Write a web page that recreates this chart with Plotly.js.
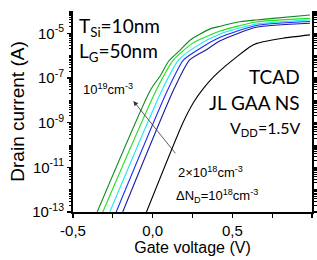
<!DOCTYPE html>
<html>
<head>
<meta charset="utf-8">
<script src="https://cdn.plot.ly/plotly-3.0.1.min.js"></script>
<style>html,body{margin:0;padding:0;background:#fff;}#chart{width:317px;height:260px;}</style>
</head>
<body>
<div id="chart"></div>
<script>
// Gate voltage (V) and log10 of drain current (A)
const vg_1e19 = [-0.348, -0.014, 0.048, 0.10, 0.173, 0.236, 0.361, 0.424, 0.549, 0.65, 0.756, 0.987];
const logId_1e19 = [-13, -7.54, -6.90, -6.25, -5.75, -5.30, -4.80, -4.68, -4.48, -4.40, -4.33, -4.18];

const vg_c2 = [-0.313, 0.023, 0.131, 0.25, 0.424, 0.65, 0.987];
const logId_c2 = [-13, -7.54, -6.19, -5.45, -4.90, -4.49, -4.33];

const vg_c3 = [-0.269, 0.059, 0.163, 0.28, 0.424, 0.65, 0.987];
const logId_c3 = [-13, -7.54, -6.19, -5.55, -5.03, -4.58, -4.40];

const vg_c4 = [-0.229, 0.094, 0.194, 0.31, 0.424, 0.65, 0.987];
const logId_c4 = [-13, -7.54, -6.19, -5.62, -5.18, -4.65, -4.47];

const vg_2e18 = [-0.188, 0.131, 0.232, 0.34, 0.424, 0.65, 0.987];
const logId_2e18 = [-13, -7.54, -6.19, -5.72, -5.33, -4.73, -4.55];

const vg_black = [-0.039, 0.19, 0.26, 0.32, 0.382, 0.45, 0.611, 0.654, 0.818, 0.987];
const logId_black = [-13, -9.0, -8.05, -7.45, -6.95, -6.5, -5.6, -5.45, -5.22, -5.07];

const seriesColors = ['#0f8a1e', '#1fe01f', '#19e8f0', '#1a2cff', '#1a1a9c', '#000000'];

const xTickVals = [-0.5, 0, 0.5, 1.0];
const xTickText = ['-0,5', '0,0', '0,5', '1,0'];
const yTickExp = [-13, -11, -9, -7, -5];
const yTickText = ['10<sup>-13</sup>', '10<sup>-11</sup>', '10<sup>-9</sup>', '10<sup>-7</sup>', '10<sup>-5</sup>'];

const toI = a => a.map(v => Math.pow(10, v));
const sets = [[vg_1e19, logId_1e19], [vg_c2, logId_c2], [vg_c3, logId_c3], [vg_c4, logId_c4], [vg_2e18, logId_2e18], [vg_black, logId_black]];
const traces = sets.map((s, i) => ({
  x: s[0], y: toI(s[1]), type: 'scatter', mode: 'lines',
  line: {color: seriesColors[i], width: 1.1, shape: 'spline', smoothing: 0.6},
  showlegend: false, hoverinfo: 'skip'
}));

// minor tick positions on the log axis (2..9 within each decade, plus unlabeled decades)
const minorY = [];
for (let d = -13; d < -4; d++) {
  if (d % 2 === 0) minorY.push(Math.pow(10, d));
  for (let k = 2; k <= 9; k++) minorY.push(k * Math.pow(10, d));
}
minorY.push(1e-4);

const px = x => (x - 72.5) / 239.5;
const py = y => (212 - y) / 201;
const calib = 'Lato, "Open Sans", sans-serif';
const arial = 'Liberation Sans, Arial, sans-serif';

const layout = {
  width: 317, height: 260,
  margin: {l: 72.5, r: 5, t: 11, b: 48},
  paper_bgcolor: '#fff', plot_bgcolor: '#fff',
  font: {family: arial, color: '#000'},
  xaxis: {
    range: [-0.5, 1.0], tickmode: 'array', tickvals: xTickVals, ticktext: xTickText,
    ticks: 'outside', ticklen: 4, tickwidth: 1.3, tickcolor: '#000',
    minor: {tickmode: 'linear', tick0: -0.25, dtick: 0.5, ticks: 'outside', ticklen: 4, tickwidth: 1.3, tickcolor: '#000'},
    showline: true, linewidth: 2, linecolor: '#000', showgrid: false, zeroline: false,
    tickfont: {size: 15, family: arial},
    title: {text: 'Gate voltage (V)', font: {size: 16, family: arial}, standoff: 4}
  },
  xaxis2: {
    overlaying: 'x', side: 'top', anchor: 'y', range: [-0.5, 1.0],
    tickmode: 'linear', tick0: -0.5, dtick: 0.25, ticks: 'inside', ticklen: 4, tickwidth: 1.3, tickcolor: '#000',
    showticklabels: false, showline: true, linewidth: 2, linecolor: '#000', showgrid: false, zeroline: false
  },
  yaxis: {
    type: 'log', range: [-13, -4], tickmode: 'array', tickvals: toI(yTickExp), ticktext: yTickText,
    ticks: 'outside', ticklen: 4, tickwidth: 1.3, tickcolor: '#000',
    minor: {tickmode: 'array', tickvals: minorY, ticks: 'outside', ticklen: 2.5, tickwidth: 1, tickcolor: '#000'},
    showline: true, linewidth: 2, linecolor: '#000', showgrid: false, zeroline: false, mirror: 'ticks',
    tickfont: {size: 15, family: arial},
    title: {text: 'Drain current (A)', font: {size: 19, family: arial}, standoff: 2}
  },
  annotations: [
    {xref: 'paper', yref: 'paper', x: px(77), y: py(27), xanchor: 'left', yanchor: 'middle', showarrow: false,
     text: 'T<sub>Si</sub>=10nm', font: {size: 19, family: calib}},
    {xref: 'paper', yref: 'paper', x: px(77), y: py(52), xanchor: 'left', yanchor: 'middle', showarrow: false,
     text: 'L<sub>G</sub>=50nm', font: {size: 19, family: calib}},
    {xref: 'paper', yref: 'paper', x: px(81), y: py(89), xanchor: 'left', yanchor: 'middle', showarrow: false,
     text: '10<sup>19</sup>cm<sup>-3</sup>', font: {size: 13, family: arial}},
    {xref: 'paper', yref: 'paper', x: px(302), y: py(76), xanchor: 'right', yanchor: 'middle', showarrow: false,
     text: 'TCAD', font: {size: 19, family: calib}},
    {xref: 'paper', yref: 'paper', x: px(302), y: py(102), xanchor: 'right', yanchor: 'middle', showarrow: false,
     text: 'JL GAA NS', font: {size: 19, family: calib}},
    {xref: 'paper', yref: 'paper', x: px(302), y: py(128), xanchor: 'right', yanchor: 'middle', showarrow: false,
     text: 'V<sub>DD</sub>=1.5V', font: {size: 16, family: calib}},
    {xref: 'paper', yref: 'paper', x: px(176), y: py(172), xanchor: 'left', yanchor: 'middle', showarrow: false,
     text: '2×10<sup>18</sup>cm<sup>-3</sup>', font: {size: 13, family: arial}},
    {xref: 'paper', yref: 'paper', x: px(174), y: py(196), xanchor: 'left', yanchor: 'middle', showarrow: false,
     text: 'ΔN<sub>D</sub>=10<sup>18</sup>cm<sup>-3</sup>', font: {size: 13, family: arial}},
    {xref: 'paper', yref: 'paper', x: px(133), y: py(101), axref: 'pixel', ayref: 'pixel', ax: 45, ay: 56,
     text: ' ', showarrow: true, arrowhead: 2, arrowsize: 1.2, arrowwidth: 0.8, arrowcolor: '#333'}
  ]
};

Plotly.newPlot('chart', traces, layout, {staticPlot: true, displayModeBar: false});
</script>
</body>
</html>
